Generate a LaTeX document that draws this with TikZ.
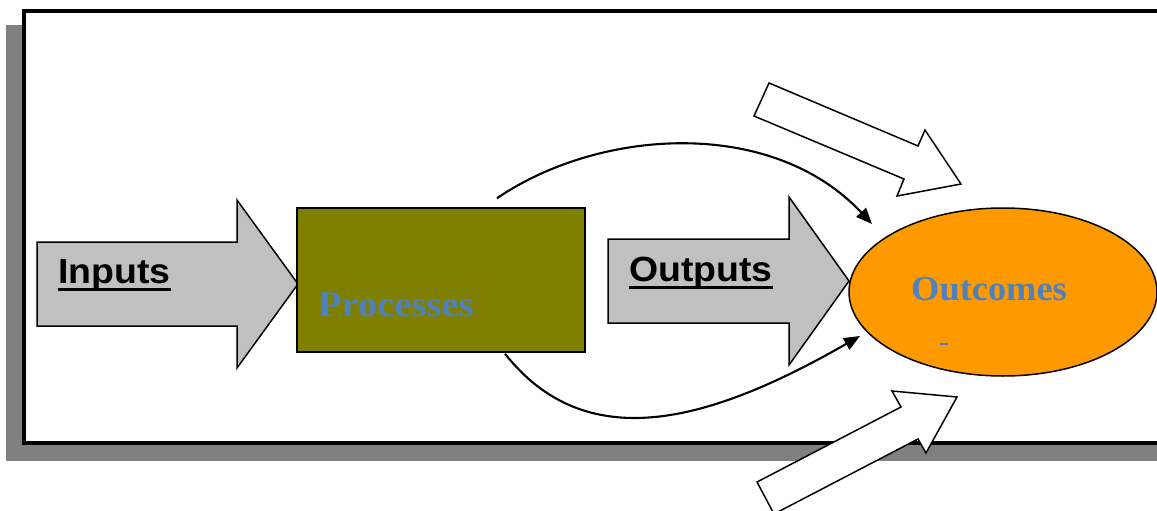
\documentclass[tikz,border=0pt]{standalone}
\usepackage{fontspec}
\usetikzlibrary{shapes.geometric,arrows.meta,calc}
\newfontfamily\sanslabel{Liberation Sans}
\newfontfamily\seriflabel{Liberation Serif}
\definecolor{shadowgray}{HTML}{808080}
\definecolor{arrowgray}{HTML}{C0C0C0}
\definecolor{boxolive}{HTML}{808000}
\definecolor{outorange}{HTML}{FF9900}
\definecolor{textblue}{HTML}{4F81BD}

\begin{document}
\begin{tikzpicture}[x=1pt,y=-1pt,
  blockarrow/.style={draw=black, line width=1.5pt, fill=arrowgray, line join=miter},
  hollowarrow/.style={draw=black, line width=1.5pt, fill=white, line join=miter},
  flowlabel/.style={inner sep=0pt, anchor=base west,
    font=\sanslabel\bfseries\fontsize{35}{40}\selectfont},
  stagelabel/.style={inner sep=0pt, anchor=base west, text=textblue,
    font=\seriflabel\bfseries\fontsize{36}{40}\selectfont},
  ulrule/.style={line width=2.6pt},
  link/.style={line width=2.1pt, -{Triangle[length=16pt,width=13pt]}},
]
\clip (0,0) rectangle (1157,511);

% framed panel with its drop shadow
\fill[shadowgray] (6,25) rectangle (1200,461);
\draw[line width=4pt, fill=white] (24,11) rectangle (1200,443);

% block arrows
\draw[blockarrow] (37,242) -- (237,242) -- (237,200) -- (298,284)
  -- (237,368) -- (237,326) -- (37,326) -- cycle;
\draw[blockarrow] (608,239) -- (789,239) -- (789,197) -- (849,281)
  -- (789,365) -- (789,323) -- (608,323) -- cycle;

% stages
\node[draw=black, line width=1.5pt, fill=boxolive, minimum width=288pt,
  minimum height=144pt, inner sep=0pt] (proc) at (441,280) {};
\node[ellipse, draw=black, line width=1.5pt, fill=outorange, minimum width=308pt,
  minimum height=168pt, inner sep=0pt] (outc) at (1003,292) {};

% labels
\node[flowlabel] (inp) at (58,283) {\scalebox{1.07}[1]{Inputs}};
\draw[ulrule] ($(inp.base west)+(0,6.5)$) -- ($(inp.base east)+(0,6.5)$);
\node[flowlabel] (outp) at (629,281) {\scalebox{1.07}[1]{Outputs}};
\draw[ulrule] ($(outp.base west)+(0,6.5)$) -- ($(outp.base east)+(0,6.5)$);
\node[stagelabel] (proclabel) at (318,316) {\scalebox{1.07}[1]{Processes}};
\node[stagelabel, font=\seriflabel\bfseries\fontsize{35}{40}\selectfont] (outclabel) at (911,300) {\scalebox{1.04}[1]{Outcomes}};
\draw[textblue, line width=1.5pt] (940,344) -- (948,344);

% curved links from processes to outcomes
\coordinate (upstart) at ($(proc.north)+(56,-9)$);
\coordinate (upend) at ($(outc.center)+(-131,-68)$);
\coordinate (lowstart) at ($(proc.south)+(64,1)$);
\coordinate (lowend) at ($(outc.center)+(-143,44)$);
\draw[link] (upstart) .. controls (600,128) and (772,117) .. (upend);
\draw[link] (lowstart) .. controls (585,455) and (705,425) .. (lowend);

% outside influences
\draw[hollowarrow] (769,83) -- (918,146) -- (925,130) -- (961,184)
  -- (897,196) -- (904,179) -- (754,116) -- cycle;
\draw[hollowarrow] (757,482) -- (901,407) -- (892,391) -- (957,397)
  -- (926,453) -- (918,439) -- (774,514) -- cycle;
\end{tikzpicture}
\end{document}
